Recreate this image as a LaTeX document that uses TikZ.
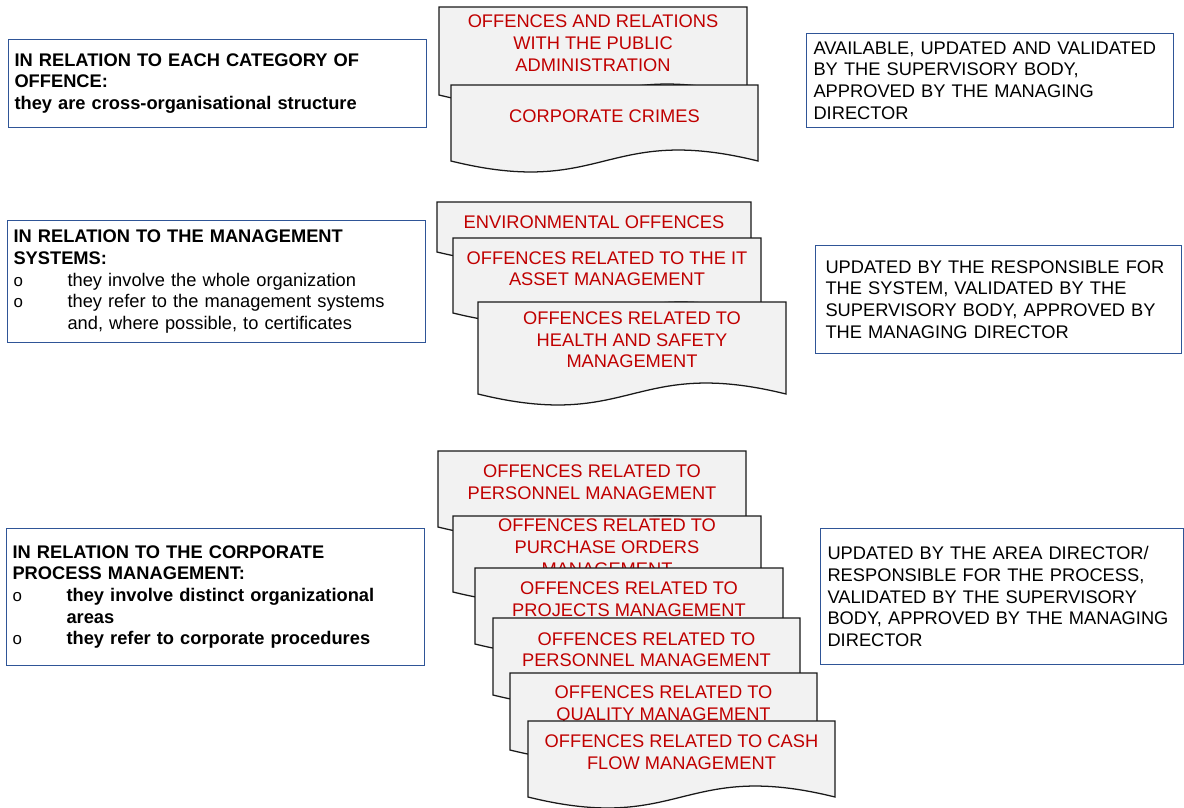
\documentclass[tikz,border=0pt]{standalone}
\usepackage{fontspec}
\setmainfont{Liberation Sans}
\usepackage{xcolor}
\usepackage{tikz}
\definecolor{BoxBlue}{HTML}{2F5597}
\definecolor{DocRed}{HTML}{C00000}
\definecolor{DocFill}{HTML}{F2F2F2}

\newcommand{\bul}{\makebox[13.5mm][l]{\fontsize{12}{12}\selectfont\mdseries o}}
% name, left, top, width, side height, text
\newcommand{\offdoc}[6]{%
    \pgfmathsetmacro{\xr}{#2+#4}\pgfmathsetmacro{\xm}{#2+#4/2}%
    \pgfmathsetmacro{\yb}{#3+#5}\pgfmathsetmacro{\yu}{\yb-38}\pgfmathsetmacro{\yd}{\yb+38}%
    \pgfmathsetmacro{\yt}{#3+0.41*#5}%
    \filldraw[docshape] (#2,#3) -- (\xr,#3) -- (\xr,\yb) .. controls (\xm,\yu) and (\xm,\yd) .. (#2,\yb) -- cycle;
    \node[doctext] (#1) at (\xm,\yt) {#6};
}

\begin{document}
\begin{tikzpicture}[
            x=0.25mm, y=-0.25mm,
            docshape/.style={draw=black!90, line width=0.9pt, fill=DocFill},
            doctext/.style={text=DocRed, align=center, inner sep=0pt, font=\fontsize{13}{15.4}\selectfont},
            notebox/.style={draw=BoxBlue, line width=0.75pt, anchor=north west, align=left, inner ysep=0pt, font=\fontsize{13}{15.4}\selectfont}
        ]
            \useasboundingbox (0,0) rectangle (1184,807);

            % left column
            \node[notebox, inner xsep=1.5mm, text width=101.5mm, minimum height=22mm] (catbox) at (8,39) {
                \textbf{IN RELATION TO EACH CATEGORY OF}\\
                \textbf{OFFENCE:}\\
                \textbf{they are cross-organisational structure}
            };

            \node[notebox, inner xsep=1.5mm, text width=101.5mm, minimum height=30.5mm] (sysbox) at (7,220) {
                \textbf{IN RELATION TO THE MANAGEMENT}\\
                \textbf{SYSTEMS:}\\
                \bul they involve the whole organization\\
                \bul they refer to the management systems\\
                \hspace*{13.5mm}and, where possible, to certificates
            };

            \node[notebox, inner xsep=1.5mm, text width=101.5mm, minimum height=34.25mm] (procbox) at (6,528) {
                \textbf{IN RELATION TO THE CORPORATE}\\
                \textbf{PROCESS MANAGEMENT:}\\
                \bul\textbf{they involve distinct organizational}\\
                \hspace*{13.5mm}\textbf{areas}\\
                \bul\textbf{they refer to corporate procedures}
            };

            % documents
            \offdoc{pubadmin}{439}{7}{308}{88}{OFFENCES AND RELATIONS\\WITH THE PUBLIC\\ADMINISTRATION}
            \offdoc{corpcrimes}{451}{85}{307}{76}{CORPORATE CRIMES}

            \offdoc{environ}{437}{202}{314}{50}{ENVIRONMENTAL OFFENCES}
            \offdoc{itasset}{453}{238}{308}{75}{OFFENCES RELATED TO THE IT\\ASSET MANAGEMENT}
            \offdoc{healthsafety}{478}{302}{308}{92}{OFFENCES RELATED TO\\HEALTH AND SAFETY\\MANAGEMENT}

            \offdoc{personnelA}{438}{451}{308}{76}{OFFENCES RELATED TO\\PERSONNEL MANAGEMENT}
            \offdoc{purchase}{453}{516}{308}{76}{OFFENCES RELATED TO\\PURCHASE ORDERS\\MANAGEMENT}
            \offdoc{projects}{475}{568}{308}{76}{OFFENCES RELATED TO\\PROJECTS MANAGEMENT}
            \offdoc{personnelB}{493}{618}{307}{77}{OFFENCES RELATED TO\\PERSONNEL MANAGEMENT}
            \offdoc{quality}{510}{673}{307}{77}{OFFENCES RELATED TO\\QUALITY MANAGEMENT}
            \offdoc{cashflow}{528}{721}{307}{76}{OFFENCES RELATED TO CASH\\FLOW MANAGEMENT}

            % right column
            \node[notebox, inner xsep=1.75mm, text width=88.25mm, minimum height=23.5mm] (availbox) at (806,33) {
                AVAILABLE, UPDATED AND VALIDATED\\
                BY THE SUPERVISORY BODY,\\
                APPROVED BY THE MANAGING\\
                DIRECTOR
            };

            \node[notebox, inner xsep=2.5mm, text width=86.5mm, minimum height=27mm] (sysupdbox) at (815,245) {
                UPDATED BY THE RESPONSIBLE FOR\\
                THE SYSTEM, VALIDATED BY THE\\
                SUPERVISORY BODY, APPROVED BY\\
                THE MANAGING DIRECTOR
            };

            \node[notebox, inner xsep=1.75mm, text width=87.25mm, minimum height=34mm] (areaupdbox) at (820,528) {
                UPDATED BY THE AREA DIRECTOR/\\
                RESPONSIBLE FOR THE PROCESS,\\
                VALIDATED BY THE SUPERVISORY\\
                BODY, APPROVED BY THE MANAGING\\
                DIRECTOR
            };

        \end{tikzpicture}
\end{document}
